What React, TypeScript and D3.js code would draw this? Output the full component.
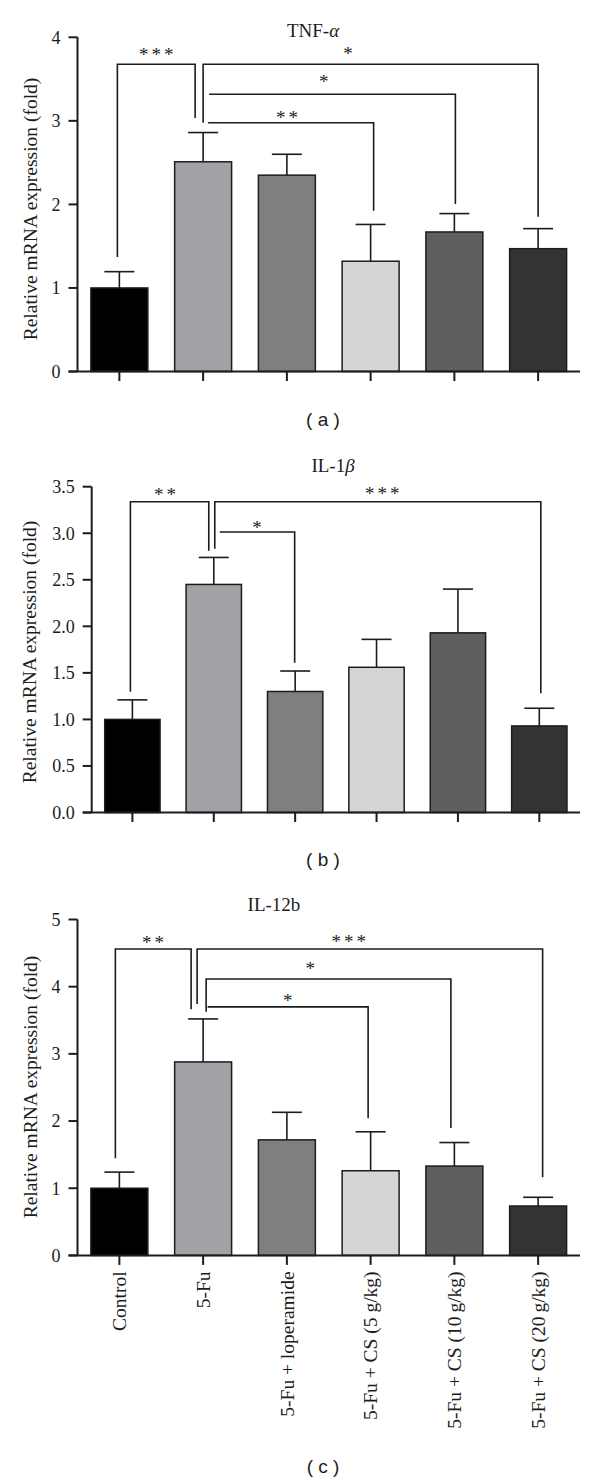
import React from 'react';
import * as d3 from 'd3';

// ---------- data ----------
const categories = [
  'Control',
  '5-Fu',
  '5-Fu + loperamide',
  '5-Fu + CS (5 g/kg)',
  '5-Fu + CS (10\u2009g/kg)',
  '5-Fu + CS (20\u2009g/kg)',
];
const barColors = ['#000000', '#a2a1a6', '#7f7f7f', '#d5d5d5', '#5f5f5f', '#333333'];

const tnfMean = [1.0, 2.51, 2.35, 1.32, 1.67, 1.47];
const tnfSD = [0.195, 0.35, 0.25, 0.44, 0.22, 0.24];
const tnfTicks = [0, 1, 2, 3, 4];

const il1bMean = [1.0, 2.45, 1.3, 1.56, 1.93, 0.93];
const il1bSD = [0.21, 0.29, 0.22, 0.3, 0.47, 0.19];
const il1bTicks = [0, 0.5, 1.0, 1.5, 2.0, 2.5, 3.0, 3.5];

const il12Mean = [1.0, 2.88, 1.72, 1.26, 1.33, 0.735];
const il12SD = [0.24, 0.64, 0.41, 0.58, 0.35, 0.13];
const il12Ticks = [0, 1, 2, 3, 4, 5];

// significance brackets (category indices, heights in data units)
type Bracket = {
  from: number; to: number; y: number;
  fromBottom: number | null; toBottom: number;
  label: string; labelAt: number; labelY: number;
  fromOff: number; toOff: number;
};
const tnfBrackets: Bracket[] = [
  { from: 0, to: 1, y: 3.677, fromBottom: 1.37, toBottom: 3.034, label: '***', labelAt: 0.44, labelY: 3.824, fromOff: -2, toOff: -8 },
  { from: 1, to: 5, y: 3.677, fromBottom: 2.978, toBottom: 1.853, label: '*', labelAt: 2.73, labelY: 3.828, fromOff: 0, toOff: 0 },
  { from: 1, to: 4, y: 3.318, fromBottom: null, toBottom: 2.005, label: '*', labelAt: 2.44, labelY: 3.489, fromOff: 6, toOff: 1 },
  { from: 1, to: 3, y: 2.978, fromBottom: null, toBottom: 1.925, label: '**', labelAt: 2.0, labelY: 3.07, fromOff: 5, toOff: 3 },
];
const il1bBrackets: Bracket[] = [
  { from: 0, to: 1, y: 3.339, fromBottom: 1.298, toBottom: 2.812, label: '**', labelAt: 0.4, labelY: 3.435, fromOff: -2, toOff: -5 },
  { from: 1, to: 5, y: 3.339, fromBottom: 2.834, toBottom: 1.28, label: '***', labelAt: 3.07, labelY: 3.446, fromOff: 1, toOff: 1.5 },
  { from: 1, to: 2, y: 3.013, fromBottom: null, toBottom: 1.609, label: '*', labelAt: 1.53, labelY: 3.083, fromOff: 6, toOff: -0.5 },
];
const il12Brackets: Bracket[] = [
  { from: 0, to: 1, y: 4.561, fromBottom: 1.445, toBottom: 3.663, label: '**', labelAt: 0.4, labelY: 4.684, fromOff: -4, toOff: -12 },
  { from: 1, to: 5, y: 4.561, fromBottom: 3.742, toBottom: 1.163, label: '***', labelAt: 2.74, labelY: 4.695, fromOff: -6, toOff: 4.5 },
  { from: 1, to: 4, y: 4.114, fromBottom: 3.628, toBottom: 1.896, label: '*', labelAt: 2.28, labelY: 4.298, fromOff: 3, toOff: -3.5 },
  { from: 1, to: 3, y: 3.7, fromBottom: null, toBottom: 2.041, label: '*', labelAt: 2.01, labelY: 3.827, fromOff: 4.5, toOff: -2.5 },
];

const SERIF = '"Liberation Serif", "Times New Roman", "DejaVu Serif", serif';
const SANS = '"Liberation Sans", Arial, "DejaVu Sans", sans-serif';
const INK = '#1c1c1c';

type PanelProps = {
  mean: number[]; sd: number[]; ticks: number[]; tickFmt: (v: number) => string;
  domainMax: number; axisX: number; top: number; bottom: number;
  title: React.ReactNode; titleX: number; titleY: number;
  ylabelX: number; ylabelY: number; brackets: Bracket[];
  caption: string; captionY: number; showXLabels: boolean;
};

function Panel(p: PanelProps) {
  const right = 580;
  const x = d3.scaleBand<number>()
    .domain(categories.map((_, i) => i))
    .range([p.axisX, right])
    .paddingInner(0.32)
    .paddingOuter(0.16);
  const y = d3.scaleLinear().domain([0, p.domainMax]).range([p.bottom, p.top]);
  const cx = (i: number) => (x(i) as number) + x.bandwidth() / 2;
  const step = x.step();
  const cap = 15;
  const starSpacing = 3;

  return (
    <g>
      <text x={p.titleX} y={p.titleY} textAnchor="middle" fontFamily={SERIF} fontSize={19} fill={INK}>
        {p.title}
      </text>
      {/* error bars */}
      {p.mean.map((m, i) => (
        <g key={'e' + i} stroke={INK} strokeWidth={1.6}>
          <line x1={cx(i)} x2={cx(i)} y1={y(m)} y2={y(m + p.sd[i])} />
          <line x1={cx(i) - cap} x2={cx(i) + cap} y1={y(m + p.sd[i])} y2={y(m + p.sd[i])} />
        </g>
      ))}
      {/* bars */}
      {p.mean.map((m, i) => (
        <rect key={'b' + i} x={x(i)} y={y(m)} width={x.bandwidth()} height={y(0) - y(m)}
          fill={barColors[i]} stroke={INK} strokeWidth={1.5} />
      ))}
      {/* brackets */}
      {p.brackets.map((b, k) => {
        const x1 = cx(b.from) + b.fromOff;
        const x2 = cx(b.to) + b.toOff;
        const yy = y(b.y);
        const pts: [number, number][] = [];
        if (b.fromBottom !== null) pts.push([x1, y(b.fromBottom)]);
        pts.push([x1, yy], [x2, yy], [x2, y(b.toBottom)]);
        const path = d3.line()(pts) as string;
        return (
          <g key={'k' + k}>
            <path d={path} fill="none" stroke={INK} strokeWidth={1.6} />
            <text x={cx(0) + b.labelAt * step + starSpacing / 2} y={y(b.labelY) + 8.5} textAnchor="middle"
              letterSpacing={starSpacing}
              fontFamily={SERIF} fontSize={19} fill={INK}>{b.label}</text>
          </g>
        );
      })}
      {/* y axis */}
      <line x1={p.axisX} x2={p.axisX} y1={p.top} y2={p.bottom} stroke={INK} strokeWidth={2} />
      {p.ticks.map((t) => (
        <g key={'t' + t}>
          <line x1={p.axisX - 9} x2={p.axisX} y1={y(t)} y2={y(t)} stroke={INK} strokeWidth={2} />
          <text x={p.axisX - 17} y={y(t)} dy="0.35em" textAnchor="end" fontFamily={SERIF}
            fontSize={18} fill={INK}>{p.tickFmt(t)}</text>
        </g>
      ))}
      {/* x axis */}
      <line x1={p.axisX - 9} x2={right} y1={p.bottom} y2={p.bottom} stroke={INK} strokeWidth={2} />
      {categories.map((c, i) => (
        <g key={'x' + i}>
          <line x1={cx(i)} x2={cx(i)} y1={p.bottom} y2={p.bottom + 9.5} stroke={INK} strokeWidth={2} />
          {p.showXLabels && (
            <text transform={`translate(${cx(i)},${p.bottom + 16}) rotate(-90)`} textAnchor="end"
              dy="0.35em" fontFamily={SERIF} fontSize={19.5} fill={INK}>{c}</text>
          )}
        </g>
      ))}
      <text transform={`translate(${p.ylabelX},${p.ylabelY}) rotate(-90)`} textAnchor="middle"
        fontFamily={SERIF} fontSize={19.5} fill={INK}>Relative mRNA expression (fold)</text>
      <text x={323} y={p.captionY} textAnchor="middle" fontFamily={SANS} fontSize={19} fill={INK}>
        {p.caption}
      </text>
    </g>
  );
}

export default function App() {
  const intFmt = d3.format('d');
  const oneFmt = d3.format('.1f');
  return (
    <svg width={600} height={1483} style={{ position: 'absolute', left: 0, top: 0, background: '#fff' }}>
      <rect width={600} height={1483} fill="#fff" />
      <Panel mean={tnfMean} sd={tnfSD} ticks={tnfTicks} tickFmt={intFmt} domainMax={4}
        axisX={77.5} top={37.3} bottom={371.5}
        title={<>TNF-<tspan fontStyle="italic">α</tspan></>} titleX={313} titleY={37}
        ylabelX={37} ylabelY={209} brackets={tnfBrackets} caption="( a )" captionY={426} showXLabels={false} />
      <Panel mean={il1bMean} sd={il1bSD} ticks={il1bTicks} tickFmt={oneFmt} domainMax={3.5}
        axisX={91.7} top={486.7} bottom={812.5}
        title={<>IL-1<tspan fontStyle="italic">β</tspan></>} titleX={333} titleY={471.5}
        ylabelX={36} ylabelY={652} brackets={il1bBrackets} caption="( b )" captionY={866} showXLabels={false} />
      <Panel mean={il12Mean} sd={il12SD} ticks={il12Ticks} tickFmt={intFmt} domainMax={5}
        axisX={77.5} top={919.5} bottom={1255.4}
        title={<>IL-12b</>} titleX={274} titleY={911}
        ylabelX={37} ylabelY={1087} brackets={il12Brackets} caption="( c )" captionY={1473} showXLabels={true} />
    </svg>
  );
}
